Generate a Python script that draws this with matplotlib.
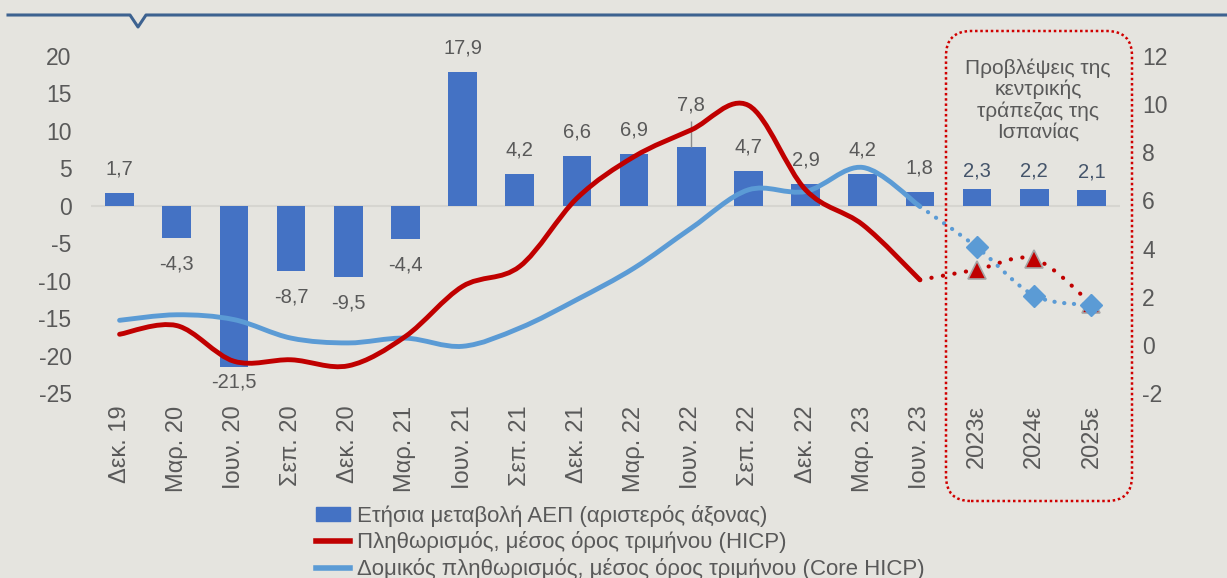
import matplotlib
matplotlib.use("Agg")
import matplotlib.pyplot as plt
from matplotlib.path import Path
from matplotlib.patches import PathPatch, Patch, FancyBboxPatch
from matplotlib.lines import Line2D

plt.rcParams['font.family'] = ['Liberation Sans', 'DejaVu Sans']
plt.rcParams['axes.unicode_minus'] = False

# --- data ---
periods = ["Δεκ. 19", "Μαρ. 20", "Ιουν. 20", "Σεπ. 20", "Δεκ. 20", "Μαρ. 21",
           "Ιουν. 21", "Σεπ. 21", "Δεκ. 21", "Μαρ. 22", "Ιουν. 22", "Σεπ. 22",
           "Δεκ. 22", "Μαρ. 23", "Ιουν. 23", "2023ε", "2024ε", "2025ε"]
gdp = [1.7, -4.3, -21.5, -8.7, -9.5, -4.4, 17.9, 4.2, 6.6, 6.9, 7.8, 4.7,
       2.9, 4.2, 1.8, 2.3, 2.2, 2.1]
gdp_err = [0, 0, 0, 0, 0, 0, 0, 0, 0, 0, 3.5, 0, 0, 0, 0, 0, 0, 0]
n_hist = 15  # first 15 periods are actual data, last 3 forecasts

hicp = [0.44, 0.8, -0.68, -0.62, -0.87, 0.35, 2.43, 3.26, 6.09, 7.82, 8.93,
        9.95, 6.44, 4.99, 2.7]
core = [1.02, 1.25, 1.05, 0.28, 0.08, 0.28, -0.06, 0.7, 1.88, 3.19, 4.85,
        6.44, 6.37, 7.37, 5.75]
hicp_fc = [2.7, 3.13, 3.57, 1.7]    # from Ιουν. 23 to 2025ε
core_fc = [5.75, 4.05, 2.05, 1.65]

legend_labels = ["Ετήσια μεταβολή ΑΕΠ (αριστερός άξονας)",
                 "Πληθωρισμός, μέσος όρος τριμήνου (HICP)",
                 "Δομικός πληθωρισμός, μέσος όρος τριμήνου (Core HICP)"]
note = "Προβλέψεις της\nκεντρικής\nτράπεζας της\nΙσπανίας"

BG = "#e5e4df"
BAR = "#4472c4"
RED = "#c00000"
LBLUE = "#5b9bd5"
GREY = "#595959"


def smooth_path(xs, ys):
    # excel-like smoothed line: cubic bezier segments with catmull-rom tangents
    verts = [(xs[0], ys[0])]
    codes = [Path.MOVETO]
    n = len(xs)
    for i in range(n - 1):
        x0, y0 = (xs[i - 1], ys[i - 1]) if i > 0 else (xs[i], ys[i])
        x3, y3 = (xs[i + 2], ys[i + 2]) if i + 2 < n else (xs[i + 1], ys[i + 1])
        c1 = (xs[i] + (xs[i + 1] - x0) / 6, ys[i] + (ys[i + 1] - y0) / 6)
        c2 = (xs[i + 1] - (x3 - xs[i]) / 6, ys[i + 1] - (y3 - ys[i]) / 6)
        verts += [c1, c2, (xs[i + 1], ys[i + 1])]
        codes += [Path.CURVE4] * 3
    return Path(verts, codes)


fig = plt.figure(figsize=(12.27, 5.78), dpi=100, facecolor=BG)
ax = fig.add_axes([91 / 1227, 1 - 393 / 578, 1029 / 1227, 337 / 578])
ax.set_facecolor(BG)

x = list(range(len(periods)))
ax.axhline(0, color="#d6d5d0", lw=1.5, zorder=1)
ax.bar(x, gdp, width=0.5, color=BAR, zorder=2)
ax.errorbar(x, gdp, yerr=[[0] * len(gdp), gdp_err], fmt="none",
            ecolor="#8c8c8c", elinewidth=1, zorder=3)

for i, v in enumerate(gdp):
    txt = f"{v:.1f}".replace(".", ",")
    if i >= n_hist:
        ax.text(i, v + 2.4, txt, ha="center", va="center", fontsize=14.5,
                color="#44546a", zorder=6)
    elif v >= 0:
        ly = max(v + 3.2, v + gdp_err[i] + 2.1)
        ax.text(i, ly, txt, ha="center", va="center", fontsize=14.5,
                color=GREY, zorder=6)
    else:
        ly = max(v - 3.45, -23.5)
        ax.text(i, ly, txt, ha="center", va="center", fontsize=14.5,
                color=GREY, zorder=6)

ax.set_xlim(-0.5, len(periods) - 0.5)
ax.set_ylim(-25, 20)
ax.set_yticks(range(-25, 21, 5))
ax.set_xticks(x)
ax.set_xticklabels(periods, rotation=90)
ax.tick_params(axis="y", length=0, pad=14, labelsize=16.5, labelcolor=GREY)
ax.tick_params(axis="x", length=0, pad=9, labelsize=17, labelcolor=GREY)
for s in ax.spines.values():
    s.set_visible(False)

ax2 = ax.twinx()
ax2.set_ylim(-2, 12)
ax2.set_yticks(range(-2, 13, 2))
ax2.tick_params(axis="y", length=0, pad=16, labelsize=16.5, labelcolor=GREY)
for s in ax2.spines.values():
    s.set_visible(False)

xh = x[:n_hist]
xf = x[n_hist - 1:]
ax2.add_patch(PathPatch(smooth_path(xh, core), fill=False, edgecolor=LBLUE,
                        lw=3.5, capstyle="round", zorder=3))
ax2.add_patch(PathPatch(smooth_path(xh, hicp), fill=False, edgecolor=RED,
                        lw=3.5, capstyle="round", zorder=4))
ax2.add_patch(PathPatch(smooth_path(xf, hicp_fc), fill=False, edgecolor=RED,
                        lw=3, linestyle=(0, (0.05, 2.75)), capstyle="round",
                        zorder=4))
ax2.add_patch(PathPatch(smooth_path(xf, core_fc), fill=False, edgecolor=LBLUE,
                        lw=3, linestyle=(0, (0.05, 2.3)), capstyle="round",
                        zorder=4))
ax2.plot(xf[1:], hicp_fc[1:], linestyle="none", marker="^", markersize=13,
         color=RED, markeredgecolor="#a6a6a6", markeredgewidth=1.2, zorder=5)
ax2.plot(xf[1:], core_fc[1:], linestyle="none", marker="D", markersize=11,
         color=LBLUE, markeredgecolor=LBLUE, zorder=6)

# forecast box and note
box = FancyBboxPatch((9.46, (578 - 501) / 100), 11.32 - 9.46, (501 - 31) / 100,
                     boxstyle="round,pad=0,rounding_size=0.25",
                     transform=fig.dpi_scale_trans, fill=False,
                     edgecolor="#d00000", lw=1.8, linestyle=(0, (1, 1.1)))
fig.add_artist(box)
fig.text(1038 / 1227, 1 - 100 / 578, note, ha="center", va="center",
         multialignment="center", fontsize=15, color=GREY, linespacing=1.12)

# top decoration line
px = [8, 130, 138, 146, 1227]
py = [15, 15, 27, 15, 15]
fig.add_artist(Line2D([p / 1227 for p in px], [1 - p / 578 for p in py],
                      transform=fig.transFigure, color="#3d6290", lw=2.2))

handles = [Patch(facecolor=BAR, edgecolor=BAR),
           Line2D([], [], color=RED, lw=4),
           Line2D([], [], color=LBLUE, lw=4)]
fig.legend(handles, legend_labels, loc="upper left",
           bbox_to_anchor=(316 / 1227, 1 - 505 / 578), frameon=False,
           fontsize=16, handlelength=1.55, handleheight=0.55,
           handletextpad=0.3, labelspacing=0.2, borderpad=0,
           borderaxespad=0, labelcolor=GREY)

fig.savefig("out.png", dpi=100, facecolor=BG)
